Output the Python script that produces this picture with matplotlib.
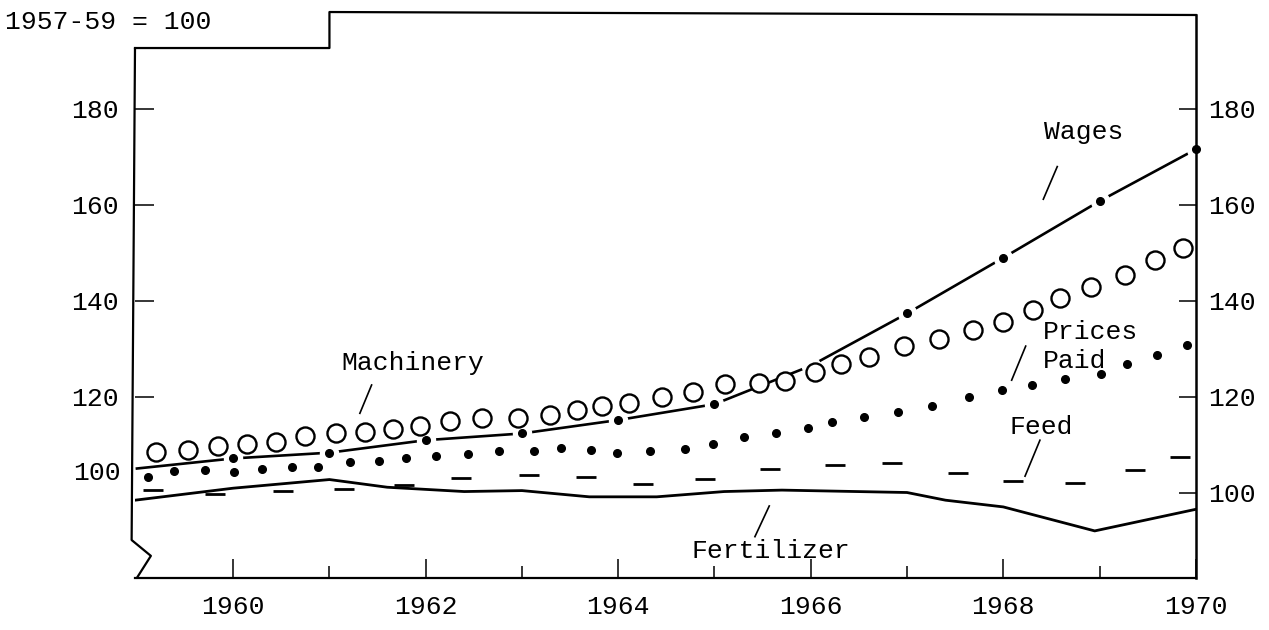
import matplotlib
matplotlib.use("Agg")
import matplotlib.pyplot as plt

plt.rcParams['font.family'] = ['Liberation Mono', 'DejaVu Sans Mono']

# ---------------- data ----------------
mach_t = [1959.20, 1959.53, 1959.84, 1960.14, 1960.45, 1960.75, 1961.07, 1961.37,
          1961.66, 1961.94, 1962.25, 1962.58, 1962.96, 1963.29, 1963.57, 1963.83,
          1964.11, 1964.45, 1964.78, 1965.11, 1965.46, 1965.73, 1966.04, 1966.31,
          1966.61, 1966.97, 1967.33, 1967.69, 1968.00, 1968.31, 1968.59, 1968.91,
          1969.26, 1969.58, 1969.87]
mach_v = [108.6, 109.0, 109.7, 110.2, 110.7, 111.9, 112.4, 112.8,
          113.3, 114.0, 115.1, 115.6, 115.6, 116.3, 117.3, 118.1,
          118.8, 120.1, 121.1, 122.7, 123.0, 123.4, 125.3, 126.9,
          128.4, 130.6, 132.0, 134.0, 135.6, 138.1, 140.6, 143.0,
          145.4, 148.5, 151.0]

prices_t = [1959.11, 1959.39, 1959.71, 1960.01, 1960.30, 1960.61, 1960.88, 1961.21,
            1961.52, 1961.80, 1962.11, 1962.44, 1962.76, 1963.12, 1963.41, 1963.72,
            1963.99, 1964.33, 1964.69, 1964.98, 1965.31, 1965.64, 1965.97, 1966.22,
            1966.55, 1966.91, 1967.26, 1967.64, 1967.99, 1968.30, 1968.64, 1969.02,
            1969.29, 1969.60, 1969.91]
prices_v = [103.3, 104.6, 104.8, 104.4, 105.1, 105.4, 105.5, 106.5,
            106.7, 107.2, 107.7, 108.1, 108.8, 108.8, 109.4, 109.0,
            108.3, 108.8, 109.1, 110.2, 111.6, 112.5, 113.6, 114.7,
            115.9, 116.9, 118.1, 119.9, 121.4, 122.5, 123.7, 124.8,
            126.8, 128.8, 130.8]

wage_years = [1959, 1960, 1961, 1962, 1963, 1964, 1965, 1966, 1967, 1968, 1969, 1970]
wage_v = [105.1, 107.2, 108.4, 111.0, 112.4, 115.2, 118.5, 126.5, 137.4, 149.0, 160.8, 171.6]
wage_dot_shown = [False, True, True, True, True, True, True, False, True, True, True, True]

feed_t = [1959.17, 1959.81, 1960.52, 1961.15, 1961.77, 1962.37, 1963.07, 1963.67,
          1964.26, 1964.90, 1965.58, 1966.25, 1966.84, 1967.53, 1968.10, 1968.75,
          1969.37, 1969.84]
feed_v = [100.6, 99.7, 100.5, 100.8, 101.6, 103.1, 103.8, 103.3,
          101.8, 102.9, 105.0, 105.8, 106.2, 104.2, 102.4, 102.0,
          104.8, 107.4]

fert_t = [1958.98, 1960.0, 1961.0, 1961.6, 1962.4, 1963.0, 1963.7, 1964.4,
          1965.1, 1965.7, 1967.0, 1967.4, 1968.0, 1968.95, 1970.0]
fert_v = [98.5, 101.0, 102.8, 101.2, 100.3, 100.5, 99.2, 99.2,
          100.3, 100.6, 100.1, 98.5, 97.1, 92.1, 96.6]

x_major = [1960, 1962, 1964, 1966, 1968, 1970]
x_minor = [1961, 1963, 1965, 1967, 1969]
y_left = [120, 140, 160, 180]
y_right = [100, 120, 140, 160, 180]

# ---------------- figure ----------------
fig = plt.figure(figsize=(12.69, 6.30), dpi=100)
ax = fig.add_axes([0.10638, 0.08254, 0.83593, 0.89365])
ax.set_xlim(1958.98, 1970.0)
ax.set_ylim(82.29, 199.58)
for s in ['top', 'left', 'right']:
    ax.spines[s].set_visible(False)
ax.spines['bottom'].set_linewidth(1.6)

ax.set_xticks(x_major)
ax.set_xticklabels([str(v) for v in x_major])
ax.set_xticks(x_minor, minor=True)
ax.tick_params(axis='x', which='major', direction='in', length=14, width=1.1,
               labelsize=19, pad=12)
ax.tick_params(axis='x', which='minor', direction='in', length=9, width=1.1)

ax.set_yticks(y_left)
ax.set_yticklabels([str(v) for v in y_left])
ax.tick_params(axis='y', direction='in', length=14, width=1.1, labelsize=19, pad=12)
ax.text(-0.013, 104.2, "100", transform=ax.get_yaxis_transform(),
        ha='right', va='center', fontsize=19)

ax2 = ax.twinx()
ax2.set_ylim(ax.get_ylim())
for s in ['top', 'left', 'bottom']:
    ax2.spines[s].set_visible(False)
ax2.spines['right'].set_linewidth(1.8)
ax2.set_yticks(y_right)
ax2.set_yticklabels([str(v) for v in y_right])
ax2.tick_params(axis='y', direction='in', length=12, width=1.1, labelsize=19, pad=9)

# frame pieces (left edge with break mark and stepped top)
ax.plot([1958.98, 1958.945, 1959.145, 1958.999], [192.7, 90.2, 86.9, 82.29],
        color='black', lw=1.6, clip_on=False, solid_capstyle='round')
ax.plot([1958.98, 1961.0, 1961.0, 1970.0], [192.7, 192.7, 200.2, 199.58],
        color='black', lw=1.6, clip_on=False)

# ---------------- series ----------------
ax.plot(fert_t, fert_v, color='black', lw=2.0, zorder=2)
ax.plot(feed_t, feed_v, ls='none', marker='_', ms=15, mew=2.0, color='black', zorder=2)
ax.plot(wage_years, wage_v, color='black', lw=1.9, zorder=2)
dot_x = [x for x, s in zip(wage_years, wage_dot_shown) if s]
dot_y = [y for y, s in zip(wage_v, wage_dot_shown) if s]
halo_x = wage_years[1:]
halo_y = wage_v[1:]
ax.plot(halo_x, halo_y, ls='none', marker='o', ms=13, mfc='white',
        mec='white', zorder=2.5, clip_on=False)
ax.plot(dot_x, dot_y, ls='none', marker='o', ms=5.5, color='black',
        zorder=4, clip_on=False)
ax.plot(mach_t, mach_v, ls='none', marker='o', ms=13, mfc='white', mec='black',
        mew=1.7, zorder=3)
ax.plot(prices_t, prices_v, ls='none', marker='o', ms=5.5, color='black', zorder=3)

# ---------------- labels and leaders ----------------
fs = 19
ax.text(1961.868, 127.1, "Machinery", ha='center', va='center', fontsize=fs)
ax.plot([1961.438, 1961.316], [122.5, 116.6], color='black', lw=1.2)
ax.text(1968.839, 175.3, "Wages", ha='center', va='center', fontsize=fs)
ax.plot([1968.561, 1968.416], [168.0, 161.2], color='black', lw=1.2)
ax.text(1968.416, 133.6, "Prices", ha='left', va='center', fontsize=fs)
ax.text(1968.416, 127.4, "Paid", ha='left', va='center', fontsize=fs)
ax.plot([1968.233, 1968.087], [130.6, 123.5], color='black', lw=1.2)
ax.text(1968.067, 113.8, "Feed", ha='left', va='center', fontsize=fs)
ax.plot([1968.381, 1968.226], [111.0, 103.5], color='black', lw=1.2)
ax.text(1965.585, 87.9, "Fertilizer", ha='center', va='center', fontsize=fs)
ax.plot([1965.569, 1965.420], [97.3, 90.9], color='black', lw=1.2)

fig.text(5 / 1269, 1 - 22 / 630, "1957-59 = 100", ha='left', va='center', fontsize=fs)

fig.savefig("out.png", dpi=100, facecolor='white')
